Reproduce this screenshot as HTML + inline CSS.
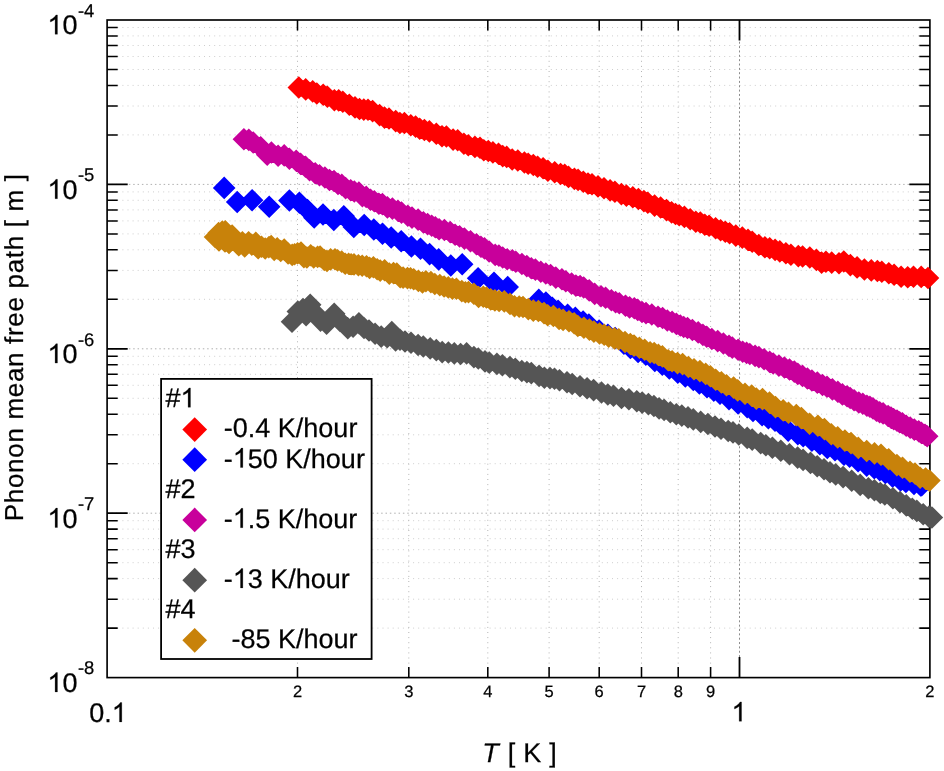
<!DOCTYPE html>
<html><head><meta charset="utf-8"><title>Phonon mean free path</title>
<style>html,body{margin:0;padding:0;background:#fff}svg{display:block}text{font-family:"Liberation Sans",sans-serif;font-kerning:none;text-rendering:geometricPrecision;white-space:pre}</style></head>
<body>
<svg width="944" height="771" viewBox="0 0 944 771">
<rect width="944" height="771" fill="#fff"/>
<g fill="none"><path d="M107.1 628.1H929.9" stroke="#cecece" stroke-width="1" stroke-dasharray="1 4.1"/><path d="M107.1 599.2H929.9" stroke="#cecece" stroke-width="1" stroke-dasharray="1 4.1"/><path d="M107.1 578.6H929.9" stroke="#cecece" stroke-width="1" stroke-dasharray="1 4.1"/><path d="M107.1 562.7H929.9" stroke="#cecece" stroke-width="1" stroke-dasharray="1 4.1"/><path d="M107.1 549.7H929.9" stroke="#cecece" stroke-width="1" stroke-dasharray="1 4.1"/><path d="M107.1 538.7H929.9" stroke="#cecece" stroke-width="1" stroke-dasharray="1 4.1"/><path d="M107.1 529.1H929.9" stroke="#cecece" stroke-width="1" stroke-dasharray="1 4.1"/><path d="M107.1 520.7H929.9" stroke="#cecece" stroke-width="1" stroke-dasharray="1 4.1"/><path d="M107.1 463.7H929.9" stroke="#cecece" stroke-width="1" stroke-dasharray="1 4.1"/><path d="M107.1 434.8H929.9" stroke="#cecece" stroke-width="1" stroke-dasharray="1 4.1"/><path d="M107.1 414.2H929.9" stroke="#cecece" stroke-width="1" stroke-dasharray="1 4.1"/><path d="M107.1 398.3H929.9" stroke="#cecece" stroke-width="1" stroke-dasharray="1 4.1"/><path d="M107.1 385.3H929.9" stroke="#cecece" stroke-width="1" stroke-dasharray="1 4.1"/><path d="M107.1 374.3H929.9" stroke="#cecece" stroke-width="1" stroke-dasharray="1 4.1"/><path d="M107.1 364.7H929.9" stroke="#cecece" stroke-width="1" stroke-dasharray="1 4.1"/><path d="M107.1 356.3H929.9" stroke="#cecece" stroke-width="1" stroke-dasharray="1 4.1"/><path d="M107.1 299.3H929.9" stroke="#cecece" stroke-width="1" stroke-dasharray="1 4.1"/><path d="M107.1 270.4H929.9" stroke="#cecece" stroke-width="1" stroke-dasharray="1 4.1"/><path d="M107.1 249.8H929.9" stroke="#cecece" stroke-width="1" stroke-dasharray="1 4.1"/><path d="M107.1 233.9H929.9" stroke="#cecece" stroke-width="1" stroke-dasharray="1 4.1"/><path d="M107.1 220.9H929.9" stroke="#cecece" stroke-width="1" stroke-dasharray="1 4.1"/><path d="M107.1 209.9H929.9" stroke="#cecece" stroke-width="1" stroke-dasharray="1 4.1"/><path d="M107.1 200.3H929.9" stroke="#cecece" stroke-width="1" stroke-dasharray="1 4.1"/><path d="M107.1 191.9H929.9" stroke="#cecece" stroke-width="1" stroke-dasharray="1 4.1"/><path d="M107.1 134.9H929.9" stroke="#cecece" stroke-width="1" stroke-dasharray="1 4.1"/><path d="M107.1 106H929.9" stroke="#cecece" stroke-width="1" stroke-dasharray="1 4.1"/><path d="M107.1 85.4H929.9" stroke="#cecece" stroke-width="1" stroke-dasharray="1 4.1"/><path d="M107.1 69.5H929.9" stroke="#cecece" stroke-width="1" stroke-dasharray="1 4.1"/><path d="M107.1 56.5H929.9" stroke="#cecece" stroke-width="1" stroke-dasharray="1 4.1"/><path d="M107.1 45.5H929.9" stroke="#cecece" stroke-width="1" stroke-dasharray="1 4.1"/><path d="M107.1 35.9H929.9" stroke="#cecece" stroke-width="1" stroke-dasharray="1 4.1"/><path d="M107.1 27.5H929.9" stroke="#cecece" stroke-width="1" stroke-dasharray="1 4.1"/><path d="M107.1 184.4H929.9" stroke="#b0b0b0" stroke-width="1" stroke-dasharray="1.5 2.85"/><path d="M107.1 348.8H929.9" stroke="#b0b0b0" stroke-width="1" stroke-dasharray="1.5 2.85"/><path d="M107.1 513.2H929.9" stroke="#b0b0b0" stroke-width="1" stroke-dasharray="1.5 2.85"/><path d="M297.5 20V677.6" stroke="#b4b4b4" stroke-width="1" stroke-dasharray="1 4.1"/><path d="M408.8 20V677.6" stroke="#b4b4b4" stroke-width="1" stroke-dasharray="1 4.1"/><path d="M487.8 20V677.6" stroke="#b4b4b4" stroke-width="1" stroke-dasharray="1 4.1"/><path d="M549.1 20V677.6" stroke="#b4b4b4" stroke-width="1" stroke-dasharray="1 4.1"/><path d="M599.2 20V677.6" stroke="#b4b4b4" stroke-width="1" stroke-dasharray="1 4.1"/><path d="M641.5 20V677.6" stroke="#b4b4b4" stroke-width="1" stroke-dasharray="1 4.1"/><path d="M678.2 20V677.6" stroke="#b4b4b4" stroke-width="1" stroke-dasharray="1 4.1"/><path d="M710.6 20V677.6" stroke="#b4b4b4" stroke-width="1" stroke-dasharray="1 4.1"/><path d="M739.5 20V677.6" stroke="#8c8c8c" stroke-width="1" stroke-dasharray="2 2.35"/></g>
<path d="M107.1 628.1h10.6M929.9 628.1h-10.6M107.1 599.2h10.6M929.9 599.2h-10.6M107.1 578.6h10.6M929.9 578.6h-10.6M107.1 562.7h10.6M929.9 562.7h-10.6M107.1 549.7h10.6M929.9 549.7h-10.6M107.1 538.7h10.6M929.9 538.7h-10.6M107.1 529.1h10.6M929.9 529.1h-10.6M107.1 520.7h10.6M929.9 520.7h-10.6M107.1 463.7h10.6M929.9 463.7h-10.6M107.1 434.8h10.6M929.9 434.8h-10.6M107.1 414.2h10.6M929.9 414.2h-10.6M107.1 398.3h10.6M929.9 398.3h-10.6M107.1 385.3h10.6M929.9 385.3h-10.6M107.1 374.3h10.6M929.9 374.3h-10.6M107.1 364.7h10.6M929.9 364.7h-10.6M107.1 356.3h10.6M929.9 356.3h-10.6M107.1 299.3h10.6M929.9 299.3h-10.6M107.1 270.4h10.6M929.9 270.4h-10.6M107.1 249.8h10.6M929.9 249.8h-10.6M107.1 233.9h10.6M929.9 233.9h-10.6M107.1 220.9h10.6M929.9 220.9h-10.6M107.1 209.9h10.6M929.9 209.9h-10.6M107.1 200.3h10.6M929.9 200.3h-10.6M107.1 191.9h10.6M929.9 191.9h-10.6M107.1 134.9h10.6M929.9 134.9h-10.6M107.1 106h10.6M929.9 106h-10.6M107.1 85.4h10.6M929.9 85.4h-10.6M107.1 69.5h10.6M929.9 69.5h-10.6M107.1 56.5h10.6M929.9 56.5h-10.6M107.1 45.5h10.6M929.9 45.5h-10.6M107.1 35.9h10.6M929.9 35.9h-10.6M107.1 27.5h10.6M929.9 27.5h-10.6M297.5 677.6v-10.6M297.5 20v10.6M408.8 677.6v-10.6M408.8 20v10.6M487.8 677.6v-10.6M487.8 20v10.6M549.1 677.6v-10.6M549.1 20v10.6M599.2 677.6v-10.6M599.2 20v10.6M641.5 677.6v-10.6M641.5 20v10.6M678.2 677.6v-10.6M678.2 20v10.6M710.6 677.6v-10.6M710.6 20v10.6" stroke="#000" stroke-width="1.55" fill="none"/>
<path d="M107.1 513.2h20.6M929.9 513.2h-20.6M107.1 348.8h20.6M929.9 348.8h-20.6M107.1 184.4h20.6M929.9 184.4h-20.6M739.5 677.6v-20.6M739.5 20v20.6" stroke="#000" stroke-width="1.8" fill="none"/>
<rect x="107.1" y="20" width="822.8" height="657.6" fill="none" stroke="#000" stroke-width="1.65"/>
<path fill="#ff0000" d="M298.8 76.2l11.3 11.3-11.3 11.3-11.3-11.3zM305.7 78.1l11.3 11.3-11.3 11.3-11.3-11.3zM312.7 80.1l11.3 11.3-11.3 11.3-11.3-11.3zM316.8 82.2l11.3 11.3-11.3 11.3-11.3-11.3zM323.2 83.5l11.3 11.3-11.3 11.3-11.3-11.3zM327.4 85.4l11.3 11.3-11.3 11.3-11.3-11.3zM334.4 88.9l11.3 11.3-11.3 11.3-11.3-11.3zM338.7 89.1l11.3 11.3-11.3 11.3-11.3-11.3zM342.8 90.4l11.3 11.3-11.3 11.3-11.3-11.3zM349.3 93.5l11.3 11.3-11.3 11.3-11.3-11.3zM355 96.1l11.3 11.3-11.3 11.3-11.3-11.3zM359.5 97.7l11.3 11.3-11.3 11.3-11.3-11.3zM363.8 98.3l11.3 11.3-11.3 11.3-11.3-11.3zM368 98.5l11.3 11.3-11.3 11.3-11.3-11.3zM372.6 99.8l11.3 11.3-11.3 11.3-11.3-11.3zM379.6 103.8l11.3 11.3-11.3 11.3-11.3-11.3zM384.5 106.3l11.3 11.3-11.3 11.3-11.3-11.3zM389 107.2l11.3 11.3-11.3 11.3-11.3-11.3zM395.7 109.8l11.3 11.3-11.3 11.3-11.3-11.3zM399.9 111.7l11.3 11.3-11.3 11.3-11.3-11.3zM404.4 111.7l11.3 11.3-11.3 11.3-11.3-11.3zM410.8 113.9l11.3 11.3-11.3 11.3-11.3-11.3zM415.6 115.3l11.3 11.3-11.3 11.3-11.3-11.3zM419.7 117.4l11.3 11.3-11.3 11.3-11.3-11.3zM424.4 118.7l11.3 11.3-11.3 11.3-11.3-11.3zM429.4 120.1l11.3 11.3-11.3 11.3-11.3-11.3zM436.3 122.5l11.3 11.3-11.3 11.3-11.3-11.3zM442 125l11.3 11.3-11.3 11.3-11.3-11.3zM446.4 125.2l11.3 11.3-11.3 11.3-11.3-11.3zM453.1 128.3l11.3 11.3-11.3 11.3-11.3-11.3zM457.7 128.9l11.3 11.3-11.3 11.3-11.3-11.3zM463.9 132.5l11.3 11.3-11.3 11.3-11.3-11.3zM468.3 134l11.3 11.3-11.3 11.3-11.3-11.3zM474.9 135.6l11.3 11.3-11.3 11.3-11.3-11.3zM480 136.5l11.3 11.3-11.3 11.3-11.3-11.3zM483.8 138.9l11.3 11.3-11.3 11.3-11.3-11.3zM488.3 139.7l11.3 11.3-11.3 11.3-11.3-11.3zM492.9 141.1l11.3 11.3-11.3 11.3-11.3-11.3zM498.5 142.4l11.3 11.3-11.3 11.3-11.3-11.3zM502.7 144.8l11.3 11.3-11.3 11.3-11.3-11.3zM506.7 145.6l11.3 11.3-11.3 11.3-11.3-11.3zM512.2 148.2l11.3 11.3-11.3 11.3-11.3-11.3zM517.8 149.2l11.3 11.3-11.3 11.3-11.3-11.3zM524.4 151.2l11.3 11.3-11.3 11.3-11.3-11.3zM528.2 152.4l11.3 11.3-11.3 11.3-11.3-11.3zM533.3 153.7l11.3 11.3-11.3 11.3-11.3-11.3zM537.6 155.4l11.3 11.3-11.3 11.3-11.3-11.3zM543.1 156.9l11.3 11.3-11.3 11.3-11.3-11.3zM547.9 159.4l11.3 11.3-11.3 11.3-11.3-11.3zM554.7 161l11.3 11.3-11.3 11.3-11.3-11.3zM560.6 162.7l11.3 11.3-11.3 11.3-11.3-11.3zM564.7 163.4l11.3 11.3-11.3 11.3-11.3-11.3zM568.5 165.6l11.3 11.3-11.3 11.3-11.3-11.3zM574.4 167.6l11.3 11.3-11.3 11.3-11.3-11.3zM578.1 168.6l11.3 11.3-11.3 11.3-11.3-11.3zM583.3 170.5l11.3 11.3-11.3 11.3-11.3-11.3zM588 172.3l11.3 11.3-11.3 11.3-11.3-11.3zM592 172.9l11.3 11.3-11.3 11.3-11.3-11.3zM598 175.1l11.3 11.3-11.3 11.3-11.3-11.3zM604 176.9l11.3 11.3-11.3 11.3-11.3-11.3zM610.1 179.1l11.3 11.3-11.3 11.3-11.3-11.3zM614.9 180.5l11.3 11.3-11.3 11.3-11.3-11.3zM621.4 182.8l11.3 11.3-11.3 11.3-11.3-11.3zM626.4 184.3l11.3 11.3-11.3 11.3-11.3-11.3zM632.8 186l11.3 11.3-11.3 11.3-11.3-11.3zM638.4 187.7l11.3 11.3-11.3 11.3-11.3-11.3zM643.9 189.8l11.3 11.3-11.3 11.3-11.3-11.3zM647.8 191.4l11.3 11.3-11.3 11.3-11.3-11.3zM654.6 194.3l11.3 11.3-11.3 11.3-11.3-11.3zM660.6 196.2l11.3 11.3-11.3 11.3-11.3-11.3zM666.5 198.8l11.3 11.3-11.3 11.3-11.3-11.3zM671.6 201.1l11.3 11.3-11.3 11.3-11.3-11.3zM675.5 202.7l11.3 11.3-11.3 11.3-11.3-11.3zM679.2 204l11.3 11.3-11.3 11.3-11.3-11.3zM684.4 205.6l11.3 11.3-11.3 11.3-11.3-11.3zM690.2 208l11.3 11.3-11.3 11.3-11.3-11.3zM695.8 210.4l11.3 11.3-11.3 11.3-11.3-11.3zM700.3 211.2l11.3 11.3-11.3 11.3-11.3-11.3zM704.8 213.4l11.3 11.3-11.3 11.3-11.3-11.3zM709.1 214.4l11.3 11.3-11.3 11.3-11.3-11.3zM715.6 217l11.3 11.3-11.3 11.3-11.3-11.3zM720.6 219l11.3 11.3-11.3 11.3-11.3-11.3zM725.3 220.5l11.3 11.3-11.3 11.3-11.3-11.3zM729.6 221.9l11.3 11.3-11.3 11.3-11.3-11.3zM735.8 224.3l11.3 11.3-11.3 11.3-11.3-11.3zM742.3 226.3l11.3 11.3-11.3 11.3-11.3-11.3zM748 228.6l11.3 11.3-11.3 11.3-11.3-11.3zM752.2 230.5l11.3 11.3-11.3 11.3-11.3-11.3zM758.8 233.7l11.3 11.3-11.3 11.3-11.3-11.3zM764.9 236l11.3 11.3-11.3 11.3-11.3-11.3zM769.7 236.9l11.3 11.3-11.3 11.3-11.3-11.3zM775.1 238.6l11.3 11.3-11.3 11.3-11.3-11.3zM779.8 240.1l11.3 11.3-11.3 11.3-11.3-11.3zM785.9 241.9l11.3 11.3-11.3 11.3-11.3-11.3zM790.9 243.5l11.3 11.3-11.3 11.3-11.3-11.3zM798.3 244.8l11.3 11.3-11.3 11.3-11.3-11.3zM802.6 245.2l11.3 11.3-11.3 11.3-11.3-11.3zM809.8 246.2l11.3 11.3-11.3 11.3-11.3-11.3zM816.4 248.6l11.3 11.3-11.3 11.3-11.3-11.3zM821.6 251.3l11.3 11.3-11.3 11.3-11.3-11.3zM825.9 250.4l11.3 11.3-11.3 11.3-11.3-11.3zM831.7 251.3l11.3 11.3-11.3 11.3-11.3-11.3zM839 252l11.3 11.3-11.3 11.3-11.3-11.3zM843.8 250.2l11.3 11.3-11.3 11.3-11.3-11.3zM850.4 253.8l11.3 11.3-11.3 11.3-11.3-11.3zM857.1 256.1l11.3 11.3-11.3 11.3-11.3-11.3zM864.4 258.2l11.3 11.3-11.3 11.3-11.3-11.3zM871.3 259.1l11.3 11.3-11.3 11.3-11.3-11.3zM877.4 259.7l11.3 11.3-11.3 11.3-11.3-11.3zM881.8 260.5l11.3 11.3-11.3 11.3-11.3-11.3zM888.8 261.9l11.3 11.3-11.3 11.3-11.3-11.3zM894.1 263.5l11.3 11.3-11.3 11.3-11.3-11.3zM901.1 265.4l11.3 11.3-11.3 11.3-11.3-11.3zM907.7 265.9l11.3 11.3-11.3 11.3-11.3-11.3zM913.5 265.4l11.3 11.3-11.3 11.3-11.3-11.3zM921.2 265.6l11.3 11.3-11.3 11.3-11.3-11.3zM928 266.7l11.3 11.3-11.3 11.3-11.3-11.3z"/>
<path fill="#0000ff" d="M224.2 176.6l11.3 11.3-11.3 11.3-11.3-11.3zM237.2 190.7l11.3 11.3-11.3 11.3-11.3-11.3zM252.1 188.9l11.3 11.3-11.3 11.3-11.3-11.3zM269.2 195.4l11.3 11.3-11.3 11.3-11.3-11.3zM289.4 189.2l11.3 11.3-11.3 11.3-11.3-11.3zM299.4 191.5l11.3 11.3-11.3 11.3-11.3-11.3zM307.5 198.7l11.3 11.3-11.3 11.3-11.3-11.3zM314.2 206.2l11.3 11.3-11.3 11.3-11.3-11.3zM323 203.2l11.3 11.3-11.3 11.3-11.3-11.3zM333.8 208.7l11.3 11.3-11.3 11.3-11.3-11.3zM343.8 204.9l11.3 11.3-11.3 11.3-11.3-11.3zM353.8 215.7l11.3 11.3-11.3 11.3-11.3-11.3zM364.2 213.7l11.3 11.3-11.3 11.3-11.3-11.3zM373.8 218.2l11.3 11.3-11.3 11.3-11.3-11.3zM382.5 222.4l11.3 11.3-11.3 11.3-11.3-11.3zM391.2 226.2l11.3 11.3-11.3 11.3-11.3-11.3zM401.2 229.9l11.3 11.3-11.3 11.3-11.3-11.3zM411.4 235.2l11.3 11.3-11.3 11.3-11.3-11.3zM420.5 237.5l11.3 11.3-11.3 11.3-11.3-11.3zM429.6 242.8l11.3 11.3-11.3 11.3-11.3-11.3zM438.7 248.1l11.3 11.3-11.3 11.3-11.3-11.3zM450.8 254.2l11.3 11.3-11.3 11.3-11.3-11.3zM462.2 253l11.3 11.3-11.3 11.3-11.3-11.3zM478.1 266.9l11.3 11.3-11.3 11.3-11.3-11.3zM494 271.5l11.3 11.3-11.3 11.3-11.3-11.3zM507.7 275.7l11.3 11.3-11.3 11.3-11.3-11.3zM538.8 288.6l11.3 11.3-11.3 11.3-11.3-11.3zM545.9 291.3l11.3 11.3-11.3 11.3-11.3-11.3zM552.3 296.5l11.3 11.3-11.3 11.3-11.3-11.3zM558.1 299.5l11.3 11.3-11.3 11.3-11.3-11.3zM567.6 303.6l11.3 11.3-11.3 11.3-11.3-11.3zM575.3 306.6l11.3 11.3-11.3 11.3-11.3-11.3zM583.1 310.3l11.3 11.3-11.3 11.3-11.3-11.3zM588.9 313.2l11.3 11.3-11.3 11.3-11.3-11.3zM599.1 319.2l11.3 11.3-11.3 11.3-11.3-11.3zM607.9 323.4l11.3 11.3-11.3 11.3-11.3-11.3zM615.2 326.8l11.3 11.3-11.3 11.3-11.3-11.3zM623.9 332.5l11.3 11.3-11.3 11.3-11.3-11.3zM630.4 336.7l11.3 11.3-11.3 11.3-11.3-11.3zM638.1 340.6l11.3 11.3-11.3 11.3-11.3-11.3zM645.8 343.3l11.3 11.3-11.3 11.3-11.3-11.3zM654.8 349.6l11.3 11.3-11.3 11.3-11.3-11.3zM662.3 353.3l11.3 11.3-11.3 11.3-11.3-11.3zM669.3 357.1l11.3 11.3-11.3 11.3-11.3-11.3zM677.8 361.4l11.3 11.3-11.3 11.3-11.3-11.3zM685.3 365.2l11.3 11.3-11.3 11.3-11.3-11.3zM693.3 368.6l11.3 11.3-11.3 11.3-11.3-11.3zM699.4 372.1l11.3 11.3-11.3 11.3-11.3-11.3zM707 375.9l11.3 11.3-11.3 11.3-11.3-11.3zM713.8 379.3l11.3 11.3-11.3 11.3-11.3-11.3zM720 382.4l11.3 11.3-11.3 11.3-11.3-11.3zM729 387.8l11.3 11.3-11.3 11.3-11.3-11.3zM738.1 392.1l11.3 11.3-11.3 11.3-11.3-11.3zM747.2 395.8l11.3 11.3-11.3 11.3-11.3-11.3zM753 399.7l11.3 11.3-11.3 11.3-11.3-11.3zM762.1 404l11.3 11.3-11.3 11.3-11.3-11.3zM768.4 407l11.3 11.3-11.3 11.3-11.3-11.3zM775 409.5l11.3 11.3-11.3 11.3-11.3-11.3zM780.2 412.4l11.3 11.3-11.3 11.3-11.3-11.3zM788.2 419.3l11.3 11.3-11.3 11.3-11.3-11.3zM797.8 422.8l11.3 11.3-11.3 11.3-11.3-11.3zM803.2 425l11.3 11.3-11.3 11.3-11.3-11.3zM811.9 429.5l11.3 11.3-11.3 11.3-11.3-11.3zM819.9 433l11.3 11.3-11.3 11.3-11.3-11.3zM827.3 436.6l11.3 11.3-11.3 11.3-11.3-11.3zM835 439l11.3 11.3-11.3 11.3-11.3-11.3zM844 443.5l11.3 11.3-11.3 11.3-11.3-11.3zM849.6 445.5l11.3 11.3-11.3 11.3-11.3-11.3zM858.1 450l11.3 11.3-11.3 11.3-11.3-11.3zM866.7 454.3l11.3 11.3-11.3 11.3-11.3-11.3zM874.3 457l11.3 11.3-11.3 11.3-11.3-11.3zM879.8 458.8l11.3 11.3-11.3 11.3-11.3-11.3zM885.4 461.7l11.3 11.3-11.3 11.3-11.3-11.3zM892.6 465.3l11.3 11.3-11.3 11.3-11.3-11.3zM900.6 469.2l11.3 11.3-11.3 11.3-11.3-11.3zM905.9 470.6l11.3 11.3-11.3 11.3-11.3-11.3zM914 472.6l11.3 11.3-11.3 11.3-11.3-11.3zM920.7 474.1l11.3 11.3-11.3 11.3-11.3-11.3zM921.8 473.9l11.3 11.3-11.3 11.3-11.3-11.3z"/>
<path fill="#c8009b" d="M243.9 128l11.3 11.3-11.3 11.3-11.3-11.3zM248.8 128.6l11.3 11.3-11.3 11.3-11.3-11.3zM253.2 131.2l11.3 11.3-11.3 11.3-11.3-11.3zM260.7 135.9l11.3 11.3-11.3 11.3-11.3-11.3zM267.2 143.4l11.3 11.3-11.3 11.3-11.3-11.3zM271.4 141.2l11.3 11.3-11.3 11.3-11.3-11.3zM278.1 144.4l11.3 11.3-11.3 11.3-11.3-11.3zM284.2 144.1l11.3 11.3-11.3 11.3-11.3-11.3zM289.4 147.5l11.3 11.3-11.3 11.3-11.3-11.3zM296.2 149.5l11.3 11.3-11.3 11.3-11.3-11.3zM300.6 152.6l11.3 11.3-11.3 11.3-11.3-11.3zM305.5 155.5l11.3 11.3-11.3 11.3-11.3-11.3zM309.6 159l11.3 11.3-11.3 11.3-11.3-11.3zM315.2 161.9l11.3 11.3-11.3 11.3-11.3-11.3zM319.5 163.9l11.3 11.3-11.3 11.3-11.3-11.3zM324.9 166.2l11.3 11.3-11.3 11.3-11.3-11.3zM329.5 168.7l11.3 11.3-11.3 11.3-11.3-11.3zM334 169.7l11.3 11.3-11.3 11.3-11.3-11.3zM338 172.6l11.3 11.3-11.3 11.3-11.3-11.3zM341.8 173.6l11.3 11.3-11.3 11.3-11.3-11.3zM345.6 176.8l11.3 11.3-11.3 11.3-11.3-11.3zM350.7 179l11.3 11.3-11.3 11.3-11.3-11.3zM354.3 180.2l11.3 11.3-11.3 11.3-11.3-11.3zM358.9 181.2l11.3 11.3-11.3 11.3-11.3-11.3zM362.4 185l11.3 11.3-11.3 11.3-11.3-11.3zM366.2 185.6l11.3 11.3-11.3 11.3-11.3-11.3zM370.5 188.5l11.3 11.3-11.3 11.3-11.3-11.3zM374.3 190l11.3 11.3-11.3 11.3-11.3-11.3zM378.9 192.5l11.3 11.3-11.3 11.3-11.3-11.3zM382.4 192.8l11.3 11.3-11.3 11.3-11.3-11.3zM387.4 196.1l11.3 11.3-11.3 11.3-11.3-11.3zM392.4 197.3l11.3 11.3-11.3 11.3-11.3-11.3zM397.9 199.4l11.3 11.3-11.3 11.3-11.3-11.3zM401.5 201.3l11.3 11.3-11.3 11.3-11.3-11.3zM407.8 204.5l11.3 11.3-11.3 11.3-11.3-11.3zM412 206.3l11.3 11.3-11.3 11.3-11.3-11.3zM418.1 208.3l11.3 11.3-11.3 11.3-11.3-11.3zM423.4 211.1l11.3 11.3-11.3 11.3-11.3-11.3zM427.6 212.8l11.3 11.3-11.3 11.3-11.3-11.3zM431.7 214.5l11.3 11.3-11.3 11.3-11.3-11.3zM435.3 215.9l11.3 11.3-11.3 11.3-11.3-11.3zM439.1 218l11.3 11.3-11.3 11.3-11.3-11.3zM444.4 218.7l11.3 11.3-11.3 11.3-11.3-11.3zM450.2 220.8l11.3 11.3-11.3 11.3-11.3-11.3zM455.1 223.5l11.3 11.3-11.3 11.3-11.3-11.3zM459.6 225.1l11.3 11.3-11.3 11.3-11.3-11.3zM464.4 227.3l11.3 11.3-11.3 11.3-11.3-11.3zM470.5 230l11.3 11.3-11.3 11.3-11.3-11.3zM476.5 232.9l11.3 11.3-11.3 11.3-11.3-11.3zM480.9 235.4l11.3 11.3-11.3 11.3-11.3-11.3zM484.5 237.1l11.3 11.3-11.3 11.3-11.3-11.3zM489.1 240.2l11.3 11.3-11.3 11.3-11.3-11.3zM495.2 243.6l11.3 11.3-11.3 11.3-11.3-11.3zM498.9 244.3l11.3 11.3-11.3 11.3-11.3-11.3zM502.7 246.2l11.3 11.3-11.3 11.3-11.3-11.3zM507.2 248l11.3 11.3-11.3 11.3-11.3-11.3zM512.3 249l11.3 11.3-11.3 11.3-11.3-11.3zM515.8 250.5l11.3 11.3-11.3 11.3-11.3-11.3zM521.9 252.7l11.3 11.3-11.3 11.3-11.3-11.3zM526.8 254.8l11.3 11.3-11.3 11.3-11.3-11.3zM531.3 257l11.3 11.3-11.3 11.3-11.3-11.3zM535.4 258.3l11.3 11.3-11.3 11.3-11.3-11.3zM540.8 260.4l11.3 11.3-11.3 11.3-11.3-11.3zM545.8 262.2l11.3 11.3-11.3 11.3-11.3-11.3zM550.6 263.7l11.3 11.3-11.3 11.3-11.3-11.3zM555.8 266.3l11.3 11.3-11.3 11.3-11.3-11.3zM561.9 267.9l11.3 11.3-11.3 11.3-11.3-11.3zM565.8 270l11.3 11.3-11.3 11.3-11.3-11.3zM571.6 272.3l11.3 11.3-11.3 11.3-11.3-11.3zM575.9 274.3l11.3 11.3-11.3 11.3-11.3-11.3zM580.1 274.8l11.3 11.3-11.3 11.3-11.3-11.3zM583.7 276.2l11.3 11.3-11.3 11.3-11.3-11.3zM589.2 279.1l11.3 11.3-11.3 11.3-11.3-11.3zM594.7 282.6l11.3 11.3-11.3 11.3-11.3-11.3zM601 285l11.3 11.3-11.3 11.3-11.3-11.3zM605.6 286.5l11.3 11.3-11.3 11.3-11.3-11.3zM611.4 289l11.3 11.3-11.3 11.3-11.3-11.3zM615.6 290.8l11.3 11.3-11.3 11.3-11.3-11.3zM619.3 291.9l11.3 11.3-11.3 11.3-11.3-11.3zM625.5 294.4l11.3 11.3-11.3 11.3-11.3-11.3zM629.6 296.1l11.3 11.3-11.3 11.3-11.3-11.3zM634.3 297l11.3 11.3-11.3 11.3-11.3-11.3zM637.7 298.6l11.3 11.3-11.3 11.3-11.3-11.3zM642 300.7l11.3 11.3-11.3 11.3-11.3-11.3zM646 301.8l11.3 11.3-11.3 11.3-11.3-11.3zM651.8 303.2l11.3 11.3-11.3 11.3-11.3-11.3zM658 305.4l11.3 11.3-11.3 11.3-11.3-11.3zM662.6 306.7l11.3 11.3-11.3 11.3-11.3-11.3zM667.3 309.2l11.3 11.3-11.3 11.3-11.3-11.3zM672.1 310.6l11.3 11.3-11.3 11.3-11.3-11.3zM676.4 312.6l11.3 11.3-11.3 11.3-11.3-11.3zM680.3 314.2l11.3 11.3-11.3 11.3-11.3-11.3zM683.7 315.7l11.3 11.3-11.3 11.3-11.3-11.3zM687.5 316.7l11.3 11.3-11.3 11.3-11.3-11.3zM692.4 318.7l11.3 11.3-11.3 11.3-11.3-11.3zM698.2 321.1l11.3 11.3-11.3 11.3-11.3-11.3zM702.9 323.6l11.3 11.3-11.3 11.3-11.3-11.3zM706.7 325.5l11.3 11.3-11.3 11.3-11.3-11.3zM711.8 327.7l11.3 11.3-11.3 11.3-11.3-11.3zM717.7 329.8l11.3 11.3-11.3 11.3-11.3-11.3zM723.4 332.2l11.3 11.3-11.3 11.3-11.3-11.3zM729 334.6l11.3 11.3-11.3 11.3-11.3-11.3zM732.3 336.3l11.3 11.3-11.3 11.3-11.3-11.3zM738.1 338.4l11.3 11.3-11.3 11.3-11.3-11.3zM742.7 340.4l11.3 11.3-11.3 11.3-11.3-11.3zM746.6 341.6l11.3 11.3-11.3 11.3-11.3-11.3zM749.8 342.7l11.3 11.3-11.3 11.3-11.3-11.3zM755.1 344.6l11.3 11.3-11.3 11.3-11.3-11.3zM758.9 345.8l11.3 11.3-11.3 11.3-11.3-11.3zM764.1 348l11.3 11.3-11.3 11.3-11.3-11.3zM769.7 350.6l11.3 11.3-11.3 11.3-11.3-11.3zM773.2 352.2l11.3 11.3-11.3 11.3-11.3-11.3zM778.9 354.3l11.3 11.3-11.3 11.3-11.3-11.3zM784.4 356.2l11.3 11.3-11.3 11.3-11.3-11.3zM789.5 358.2l11.3 11.3-11.3 11.3-11.3-11.3zM794.3 360.3l11.3 11.3-11.3 11.3-11.3-11.3zM797.8 362.6l11.3 11.3-11.3 11.3-11.3-11.3zM802.5 364.6l11.3 11.3-11.3 11.3-11.3-11.3zM807.4 367.2l11.3 11.3-11.3 11.3-11.3-11.3zM811.9 369.2l11.3 11.3-11.3 11.3-11.3-11.3zM817.3 371.3l11.3 11.3-11.3 11.3-11.3-11.3zM822.5 373.7l11.3 11.3-11.3 11.3-11.3-11.3zM827 375.5l11.3 11.3-11.3 11.3-11.3-11.3zM832.4 378.1l11.3 11.3-11.3 11.3-11.3-11.3zM837.8 380.5l11.3 11.3-11.3 11.3-11.3-11.3zM842.4 383.1l11.3 11.3-11.3 11.3-11.3-11.3zM847.1 385l11.3 11.3-11.3 11.3-11.3-11.3zM850.2 386.7l11.3 11.3-11.3 11.3-11.3-11.3zM854.1 388.9l11.3 11.3-11.3 11.3-11.3-11.3zM858.8 391.2l11.3 11.3-11.3 11.3-11.3-11.3zM862.8 392.4l11.3 11.3-11.3 11.3-11.3-11.3zM866.9 394.5l11.3 11.3-11.3 11.3-11.3-11.3zM869.9 395.5l11.3 11.3-11.3 11.3-11.3-11.3zM873 397.1l11.3 11.3-11.3 11.3-11.3-11.3zM876.5 399.4l11.3 11.3-11.3 11.3-11.3-11.3zM879.7 401l11.3 11.3-11.3 11.3-11.3-11.3zM883.1 402.1l11.3 11.3-11.3 11.3-11.3-11.3zM888.1 404.7l11.3 11.3-11.3 11.3-11.3-11.3zM891 406.3l11.3 11.3-11.3 11.3-11.3-11.3zM893.8 408l11.3 11.3-11.3 11.3-11.3-11.3zM897 409.3l11.3 11.3-11.3 11.3-11.3-11.3zM899.6 411l11.3 11.3-11.3 11.3-11.3-11.3zM902.4 412l11.3 11.3-11.3 11.3-11.3-11.3zM906.2 414.4l11.3 11.3-11.3 11.3-11.3-11.3zM910.2 416.3l11.3 11.3-11.3 11.3-11.3-11.3zM914.3 418.3l11.3 11.3-11.3 11.3-11.3-11.3zM918.7 419.9l11.3 11.3-11.3 11.3-11.3-11.3zM921.4 421.6l11.3 11.3-11.3 11.3-11.3-11.3zM925 423.5l11.3 11.3-11.3 11.3-11.3-11.3zM927.2 425l11.3 11.3-11.3 11.3-11.3-11.3z"/>
<path fill="#555555" d="M292 310.4l11.3 11.3-11.3 11.3-11.3-11.3zM297.8 300.2l11.3 11.3-11.3 11.3-11.3-11.3zM303 297.7l11.3 11.3-11.3 11.3-11.3-11.3zM310.2 293.4l11.3 11.3-11.3 11.3-11.3-11.3zM306.1 304l11.3 11.3-11.3 11.3-11.3-11.3zM314 300.7l11.3 11.3-11.3 11.3-11.3-11.3zM320.5 309.3l11.3 11.3-11.3 11.3-11.3-11.3zM326.6 312.4l11.3 11.3-11.3 11.3-11.3-11.3zM334.2 302.5l11.3 11.3-11.3 11.3-11.3-11.3zM330 307.7l11.3 11.3-11.3 11.3-11.3-11.3zM340 309.7l11.3 11.3-11.3 11.3-11.3-11.3zM347.8 316.9l11.3 11.3-11.3 11.3-11.3-11.3zM353.1 315.4l11.3 11.3-11.3 11.3-11.3-11.3zM358.9 311.9l11.3 11.3-11.3 11.3-11.3-11.3zM364 316.7l11.3 11.3-11.3 11.3-11.3-11.3zM369 319.2l11.3 11.3-11.3 11.3-11.3-11.3zM375.1 322.5l11.3 11.3-11.3 11.3-11.3-11.3zM381.2 325.3l11.3 11.3-11.3 11.3-11.3-11.3zM387.2 326l11.3 11.3-11.3 11.3-11.3-11.3zM391.8 320.7l11.3 11.3-11.3 11.3-11.3-11.3zM395.6 329.1l11.3 11.3-11.3 11.3-11.3-11.3zM400 328.5l11.3 11.3-11.3 11.3-11.3-11.3zM405 330.2l11.3 11.3-11.3 11.3-11.3-11.3zM411 331.5l11.3 11.3-11.3 11.3-11.3-11.3zM418.1 333.7l11.3 11.3-11.3 11.3-11.3-11.3zM423.3 335.2l11.3 11.3-11.3 11.3-11.3-11.3zM430.2 337.1l11.3 11.3-11.3 11.3-11.3-11.3zM436.3 338.8l11.3 11.3-11.3 11.3-11.3-11.3zM442.2 340.8l11.3 11.3-11.3 11.3-11.3-11.3zM448.4 341.2l11.3 11.3-11.3 11.3-11.3-11.3zM454.3 342.1l11.3 11.3-11.3 11.3-11.3-11.3zM460.6 342.7l11.3 11.3-11.3 11.3-11.3-11.3zM466.6 342.1l11.3 11.3-11.3 11.3-11.3-11.3zM473.9 345.8l11.3 11.3-11.3 11.3-11.3-11.3zM478.3 347.2l11.3 11.3-11.3 11.3-11.3-11.3zM485 350.1l11.3 11.3-11.3 11.3-11.3-11.3zM489.3 351.3l11.3 11.3-11.3 11.3-11.3-11.3zM496.9 352.6l11.3 11.3-11.3 11.3-11.3-11.3zM502.4 353.9l11.3 11.3-11.3 11.3-11.3-11.3zM509.9 355.8l11.3 11.3-11.3 11.3-11.3-11.3zM515.3 357.5l11.3 11.3-11.3 11.3-11.3-11.3zM521.8 359.7l11.3 11.3-11.3 11.3-11.3-11.3zM526.9 360.8l11.3 11.3-11.3 11.3-11.3-11.3zM531.3 361.8l11.3 11.3-11.3 11.3-11.3-11.3zM539.1 364.6l11.3 11.3-11.3 11.3-11.3-11.3zM544.4 366.5l11.3 11.3-11.3 11.3-11.3-11.3zM550 366.8l11.3 11.3-11.3 11.3-11.3-11.3zM554.5 367.5l11.3 11.3-11.3 11.3-11.3-11.3zM559.5 368.9l11.3 11.3-11.3 11.3-11.3-11.3zM567 370.9l11.3 11.3-11.3 11.3-11.3-11.3zM572.2 372.7l11.3 11.3-11.3 11.3-11.3-11.3zM580 374.9l11.3 11.3-11.3 11.3-11.3-11.3zM587.1 377l11.3 11.3-11.3 11.3-11.3-11.3zM593.6 378.8l11.3 11.3-11.3 11.3-11.3-11.3zM601.5 381.2l11.3 11.3-11.3 11.3-11.3-11.3zM607.8 383.2l11.3 11.3-11.3 11.3-11.3-11.3zM613.5 384.5l11.3 11.3-11.3 11.3-11.3-11.3zM621.5 386.7l11.3 11.3-11.3 11.3-11.3-11.3zM628.9 388l11.3 11.3-11.3 11.3-11.3-11.3zM636.8 389.9l11.3 11.3-11.3 11.3-11.3-11.3zM642.2 391.3l11.3 11.3-11.3 11.3-11.3-11.3zM648.4 392.8l11.3 11.3-11.3 11.3-11.3-11.3zM653.9 394.7l11.3 11.3-11.3 11.3-11.3-11.3zM659.1 397.1l11.3 11.3-11.3 11.3-11.3-11.3zM664.1 398.6l11.3 11.3-11.3 11.3-11.3-11.3zM670.3 401l11.3 11.3-11.3 11.3-11.3-11.3zM676.3 403l11.3 11.3-11.3 11.3-11.3-11.3zM681.8 404.3l11.3 11.3-11.3 11.3-11.3-11.3zM688 406.1l11.3 11.3-11.3 11.3-11.3-11.3zM693.3 408.1l11.3 11.3-11.3 11.3-11.3-11.3zM700.7 410.6l11.3 11.3-11.3 11.3-11.3-11.3zM707.9 412.7l11.3 11.3-11.3 11.3-11.3-11.3zM715 415.2l11.3 11.3-11.3 11.3-11.3-11.3zM721 417.5l11.3 11.3-11.3 11.3-11.3-11.3zM728.2 419.7l11.3 11.3-11.3 11.3-11.3-11.3zM733 421.1l11.3 11.3-11.3 11.3-11.3-11.3zM738.8 423.2l11.3 11.3-11.3 11.3-11.3-11.3zM747.2 426.6l11.3 11.3-11.3 11.3-11.3-11.3zM752.2 428.3l11.3 11.3-11.3 11.3-11.3-11.3zM760.7 431.8l11.3 11.3-11.3 11.3-11.3-11.3zM765.9 434l11.3 11.3-11.3 11.3-11.3-11.3zM772.4 436.4l11.3 11.3-11.3 11.3-11.3-11.3zM780.8 439.5l11.3 11.3-11.3 11.3-11.3-11.3zM789.5 442.9l11.3 11.3-11.3 11.3-11.3-11.3zM797.6 446.3l11.3 11.3-11.3 11.3-11.3-11.3zM803.1 448.6l11.3 11.3-11.3 11.3-11.3-11.3zM810.5 451.6l11.3 11.3-11.3 11.3-11.3-11.3zM817.2 455l11.3 11.3-11.3 11.3-11.3-11.3zM824 458l11.3 11.3-11.3 11.3-11.3-11.3zM830 460.9l11.3 11.3-11.3 11.3-11.3-11.3zM835.7 463.1l11.3 11.3-11.3 11.3-11.3-11.3zM843.1 465.8l11.3 11.3-11.3 11.3-11.3-11.3zM851.7 469.4l11.3 11.3-11.3 11.3-11.3-11.3zM860.2 473.6l11.3 11.3-11.3 11.3-11.3-11.3zM868.4 476.9l11.3 11.3-11.3 11.3-11.3-11.3zM874.4 478.9l11.3 11.3-11.3 11.3-11.3-11.3zM880.3 481.7l11.3 11.3-11.3 11.3-11.3-11.3zM884.8 483.2l11.3 11.3-11.3 11.3-11.3-11.3zM892.9 486.9l11.3 11.3-11.3 11.3-11.3-11.3zM900 490.8l11.3 11.3-11.3 11.3-11.3-11.3zM906.3 494.1l11.3 11.3-11.3 11.3-11.3-11.3zM912.3 497.4l11.3 11.3-11.3 11.3-11.3-11.3zM916.8 499.6l11.3 11.3-11.3 11.3-11.3-11.3zM923.2 502.9l11.3 11.3-11.3 11.3-11.3-11.3zM929 505.3l11.3 11.3-11.3 11.3-11.3-11.3zM931.9 506.2l11.3 11.3-11.3 11.3-11.3-11.3z"/>
<path fill="#c8820a" d="M219 229.2l11.3 11.3-11.3 11.3-11.3-11.3zM225 230.2l11.3 11.3-11.3 11.3-11.3-11.3zM222 221.7l11.3 11.3-11.3 11.3-11.3-11.3zM229 231.7l11.3 11.3-11.3 11.3-11.3-11.3zM215 225.7l11.3 11.3-11.3 11.3-11.3-11.3zM218.6 221.7l11.3 11.3-11.3 11.3-11.3-11.3zM222.3 220.2l11.3 11.3-11.3 11.3-11.3-11.3zM225.3 219.9l11.3 11.3-11.3 11.3-11.3-11.3zM229 227l11.3 11.3-11.3 11.3-11.3-11.3zM232.1 224.2l11.3 11.3-11.3 11.3-11.3-11.3zM235.1 228l11.3 11.3-11.3 11.3-11.3-11.3zM238.8 234l11.3 11.3-11.3 11.3-11.3-11.3zM242.4 230.9l11.3 11.3-11.3 11.3-11.3-11.3zM244.7 235.2l11.3 11.3-11.3 11.3-11.3-11.3zM248.6 230.9l11.3 11.3-11.3 11.3-11.3-11.3zM251.8 233.4l11.3 11.3-11.3 11.3-11.3-11.3zM255.8 231.4l11.3 11.3-11.3 11.3-11.3-11.3zM258.2 237l11.3 11.3-11.3 11.3-11.3-11.3zM261.5 235.5l11.3 11.3-11.3 11.3-11.3-11.3zM265.2 237.2l11.3 11.3-11.3 11.3-11.3-11.3zM268.8 235.9l11.3 11.3-11.3 11.3-11.3-11.3zM271.2 234.7l11.3 11.3-11.3 11.3-11.3-11.3zM274.2 238.6l11.3 11.3-11.3 11.3-11.3-11.3zM277.2 237.1l11.3 11.3-11.3 11.3-11.3-11.3zM280.7 239.7l11.3 11.3-11.3 11.3-11.3-11.3zM284.2 238.3l11.3 11.3-11.3 11.3-11.3-11.3zM288.1 242.1l11.3 11.3-11.3 11.3-11.3-11.3zM292.2 243.6l11.3 11.3-11.3 11.3-11.3-11.3zM294.6 242.9l11.3 11.3-11.3 11.3-11.3-11.3zM297.6 241.9l11.3 11.3-11.3 11.3-11.3-11.3zM301 241.2l11.3 11.3-11.3 11.3-11.3-11.3zM303.9 246l11.3 11.3-11.3 11.3-11.3-11.3zM306.9 246.2l11.3 11.3-11.3 11.3-11.3-11.3zM310.7 244l11.3 11.3-11.3 11.3-11.3-11.3zM313.7 246.1l11.3 11.3-11.3 11.3-11.3-11.3zM317.6 245.6l11.3 11.3-11.3 11.3-11.3-11.3zM320.1 245.2l11.3 11.3-11.3 11.3-11.3-11.3zM324.3 248.7l11.3 11.3-11.3 11.3-11.3-11.3zM327 249.7l11.3 11.3-11.3 11.3-11.3-11.3zM330.6 248.1l11.3 11.3-11.3 11.3-11.3-11.3zM335 247.9l11.3 11.3-11.3 11.3-11.3-11.3zM337.6 249.1l11.3 11.3-11.3 11.3-11.3-11.3zM341.7 250.3l11.3 11.3-11.3 11.3-11.3-11.3zM345.2 252.4l11.3 11.3-11.3 11.3-11.3-11.3zM348.6 252.5l11.3 11.3-11.3 11.3-11.3-11.3zM351.1 253l11.3 11.3-11.3 11.3-11.3-11.3zM354 253.1l11.3 11.3-11.3 11.3-11.3-11.3zM358.4 254l11.3 11.3-11.3 11.3-11.3-11.3zM362.2 254.5l11.3 11.3-11.3 11.3-11.3-11.3zM366.5 255l11.3 11.3-11.3 11.3-11.3-11.3zM369.6 256.6l11.3 11.3-11.3 11.3-11.3-11.3zM373.4 255.9l11.3 11.3-11.3 11.3-11.3-11.3zM377.2 257.9l11.3 11.3-11.3 11.3-11.3-11.3zM380.2 259.3l11.3 11.3-11.3 11.3-11.3-11.3zM384.6 259l11.3 11.3-11.3 11.3-11.3-11.3zM389.3 262.3l11.3 11.3-11.3 11.3-11.3-11.3zM393.5 261.8l11.3 11.3-11.3 11.3-11.3-11.3zM396.8 262.2l11.3 11.3-11.3 11.3-11.3-11.3zM400.2 266l11.3 11.3-11.3 11.3-11.3-11.3zM403.1 266.3l11.3 11.3-11.3 11.3-11.3-11.3zM407.5 266.8l11.3 11.3-11.3 11.3-11.3-11.3zM410.5 267l11.3 11.3-11.3 11.3-11.3-11.3zM413.7 268l11.3 11.3-11.3 11.3-11.3-11.3zM418.4 269.6l11.3 11.3-11.3 11.3-11.3-11.3zM422.5 271.1l11.3 11.3-11.3 11.3-11.3-11.3zM425.9 270l11.3 11.3-11.3 11.3-11.3-11.3zM430.9 270.8l11.3 11.3-11.3 11.3-11.3-11.3zM434.8 272.7l11.3 11.3-11.3 11.3-11.3-11.3zM439.8 273.8l11.3 11.3-11.3 11.3-11.3-11.3zM444.1 275.2l11.3 11.3-11.3 11.3-11.3-11.3zM448.3 276.1l11.3 11.3-11.3 11.3-11.3-11.3zM452.4 277.3l11.3 11.3-11.3 11.3-11.3-11.3zM456.4 277.5l11.3 11.3-11.3 11.3-11.3-11.3zM461.8 279.8l11.3 11.3-11.3 11.3-11.3-11.3zM465.4 281l11.3 11.3-11.3 11.3-11.3-11.3zM468.5 280.8l11.3 11.3-11.3 11.3-11.3-11.3zM473.8 282.5l11.3 11.3-11.3 11.3-11.3-11.3zM478.6 285.7l11.3 11.3-11.3 11.3-11.3-11.3zM483.3 285.5l11.3 11.3-11.3 11.3-11.3-11.3zM486.4 286.2l11.3 11.3-11.3 11.3-11.3-11.3zM490.7 288.1l11.3 11.3-11.3 11.3-11.3-11.3zM494.9 289.1l11.3 11.3-11.3 11.3-11.3-11.3zM499.1 289.7l11.3 11.3-11.3 11.3-11.3-11.3zM504.3 290.1l11.3 11.3-11.3 11.3-11.3-11.3zM510 292.6l11.3 11.3-11.3 11.3-11.3-11.3zM514.5 295l11.3 11.3-11.3 11.3-11.3-11.3zM519.2 295.3l11.3 11.3-11.3 11.3-11.3-11.3zM523 295.7l11.3 11.3-11.3 11.3-11.3-11.3zM528.3 297.8l11.3 11.3-11.3 11.3-11.3-11.3zM533.3 299.3l11.3 11.3-11.3 11.3-11.3-11.3zM538.4 299.7l11.3 11.3-11.3 11.3-11.3-11.3zM544 301.8l11.3 11.3-11.3 11.3-11.3-11.3zM547.7 304l11.3 11.3-11.3 11.3-11.3-11.3zM553.4 304.7l11.3 11.3-11.3 11.3-11.3-11.3zM559.1 307.6l11.3 11.3-11.3 11.3-11.3-11.3zM563.1 308.6l11.3 11.3-11.3 11.3-11.3-11.3zM569 309.9l11.3 11.3-11.3 11.3-11.3-11.3zM574.1 312l11.3 11.3-11.3 11.3-11.3-11.3zM577.8 314.7l11.3 11.3-11.3 11.3-11.3-11.3zM583.9 316.5l11.3 11.3-11.3 11.3-11.3-11.3zM589.4 318.3l11.3 11.3-11.3 11.3-11.3-11.3zM593.9 320.3l11.3 11.3-11.3 11.3-11.3-11.3zM599.5 322.2l11.3 11.3-11.3 11.3-11.3-11.3zM604.2 323.5l11.3 11.3-11.3 11.3-11.3-11.3zM608.7 325.3l11.3 11.3-11.3 11.3-11.3-11.3zM614.5 327.1l11.3 11.3-11.3 11.3-11.3-11.3zM618.8 328l11.3 11.3-11.3 11.3-11.3-11.3zM625 330.7l11.3 11.3-11.3 11.3-11.3-11.3zM630.3 332.7l11.3 11.3-11.3 11.3-11.3-11.3zM634 334.3l11.3 11.3-11.3 11.3-11.3-11.3zM639.4 336.5l11.3 11.3-11.3 11.3-11.3-11.3zM644.7 338.4l11.3 11.3-11.3 11.3-11.3-11.3zM650.1 341.1l11.3 11.3-11.3 11.3-11.3-11.3zM654.2 341.7l11.3 11.3-11.3 11.3-11.3-11.3zM658.4 343.6l11.3 11.3-11.3 11.3-11.3-11.3zM662.4 345.1l11.3 11.3-11.3 11.3-11.3-11.3zM668.2 348.9l11.3 11.3-11.3 11.3-11.3-11.3zM672.1 349.9l11.3 11.3-11.3 11.3-11.3-11.3zM677.5 351.8l11.3 11.3-11.3 11.3-11.3-11.3zM682.6 352.8l11.3 11.3-11.3 11.3-11.3-11.3zM688.4 355.7l11.3 11.3-11.3 11.3-11.3-11.3zM694 357.9l11.3 11.3-11.3 11.3-11.3-11.3zM699.9 359.8l11.3 11.3-11.3 11.3-11.3-11.3zM705.7 362.6l11.3 11.3-11.3 11.3-11.3-11.3zM710.4 365l11.3 11.3-11.3 11.3-11.3-11.3zM715.7 368.4l11.3 11.3-11.3 11.3-11.3-11.3zM721.4 371.1l11.3 11.3-11.3 11.3-11.3-11.3zM726.5 373.9l11.3 11.3-11.3 11.3-11.3-11.3zM733.6 376.3l11.3 11.3-11.3 11.3-11.3-11.3zM737.7 379.1l11.3 11.3-11.3 11.3-11.3-11.3zM745 382.4l11.3 11.3-11.3 11.3-11.3-11.3zM751.7 384.3l11.3 11.3-11.3 11.3-11.3-11.3zM756.3 387.3l11.3 11.3-11.3 11.3-11.3-11.3zM762.5 387.8l11.3 11.3-11.3 11.3-11.3-11.3zM769.5 391.3l11.3 11.3-11.3 11.3-11.3-11.3zM775.5 395.8l11.3 11.3-11.3 11.3-11.3-11.3zM783.2 399.1l11.3 11.3-11.3 11.3-11.3-11.3zM788.5 401.5l11.3 11.3-11.3 11.3-11.3-11.3zM796.3 403.8l11.3 11.3-11.3 11.3-11.3-11.3zM801.4 406.8l11.3 11.3-11.3 11.3-11.3-11.3zM809.6 412.5l11.3 11.3-11.3 11.3-11.3-11.3zM817.9 414.5l11.3 11.3-11.3 11.3-11.3-11.3zM824.4 417.8l11.3 11.3-11.3 11.3-11.3-11.3zM831.3 422.9l11.3 11.3-11.3 11.3-11.3-11.3zM837.7 426.1l11.3 11.3-11.3 11.3-11.3-11.3zM844.9 429.3l11.3 11.3-11.3 11.3-11.3-11.3zM851 431.8l11.3 11.3-11.3 11.3-11.3-11.3zM858.3 436.6l11.3 11.3-11.3 11.3-11.3-11.3zM866.7 439.7l11.3 11.3-11.3 11.3-11.3-11.3zM874.5 442.1l11.3 11.3-11.3 11.3-11.3-11.3zM881 443.5l11.3 11.3-11.3 11.3-11.3-11.3zM888.7 447.9l11.3 11.3-11.3 11.3-11.3-11.3zM896.9 453.8l11.3 11.3-11.3 11.3-11.3-11.3zM902.5 456.5l11.3 11.3-11.3 11.3-11.3-11.3zM910 460.5l11.3 11.3-11.3 11.3-11.3-11.3zM915 462.2l11.3 11.3-11.3 11.3-11.3-11.3zM920.1 466.4l11.3 11.3-11.3 11.3-11.3-11.3zM925.6 467.3l11.3 11.3-11.3 11.3-11.3-11.3zM929.4 469.3l11.3 11.3-11.3 11.3-11.3-11.3z"/>
<rect x="161.1" y="378.9" width="210.5" height="280.1" fill="#fff" stroke="#000" stroke-width="1.8"/>
<path fill="#ff0000" d="M194.7 417.2l12.35 12.35-12.35 12.35-12.35-12.35z"/>
<path fill="#0000ff" d="M194.7 447.3l12.35 12.35-12.35 12.35-12.35-12.35z"/>
<path fill="#c8009b" d="M194.7 507.6l12.35 12.35-12.35 12.35-12.35-12.35z"/>
<path fill="#555555" d="M194.7 567.8l12.35 12.35-12.35 12.35-12.35-12.35z"/>
<path fill="#c8820a" d="M194.7 628l12.35 12.35-12.35 12.35-12.35-12.35z"/>
<g font-family="'Liberation Sans', sans-serif" font-size="27" fill="#000" stroke="#000" stroke-width="0.25" opacity="0.999"><text x="165.4" y="407.3" font-size="27">#</text><text x="223.8" y="437.4" font-size="27">-0.4 K/hour</text><text x="223.8" y="467.5" font-size="27">-</text><text x="247.8" y="467.5" font-size="27">50 K/hour</text><text x="165.4" y="497.6" font-size="27">#2</text><text x="223.8" y="527.7" font-size="27">-</text><text x="247.8" y="527.7" font-size="27">.5 K/hour</text><text x="165.4" y="557.8" font-size="27">#3</text><text x="223.8" y="587.9" font-size="27">-</text><text x="247.8" y="587.9" font-size="27">3 K/hour</text><text x="165.4" y="618" font-size="27">#4</text><text x="231.4" y="648.1" font-size="27">-85 K/hour</text><text x="62.41" y="691.9" font-size="27">0</text><text x="78" y="674.3" font-size="18.4">-8</text><text x="62.41" y="527.5" font-size="27">0</text><text x="78" y="509.9" font-size="18.4">-7</text><text x="62.41" y="363.1" font-size="27">0</text><text x="78" y="345.5" font-size="18.4">-6</text><text x="62.41" y="198.7" font-size="27">0</text><text x="78" y="181.1" font-size="18.4">-5</text><text x="62.41" y="34.3" font-size="27">0</text><text x="78" y="16.7" font-size="18.4">-4</text><text x="89.24" y="721.9" font-size="27">0.</text><text x="292.88" y="697.4" font-size="16.5">2</text><text x="404.24" y="697.4" font-size="16.5">3</text><text x="483.26" y="697.4" font-size="16.5">4</text><text x="544.54" y="697.4" font-size="16.5">5</text><text x="594.62" y="697.4" font-size="16.5">6</text><text x="636.95" y="697.4" font-size="16.5">7</text><text x="673.63" y="697.4" font-size="16.5">8</text><text x="705.98" y="697.4" font-size="16.5">9</text><text x="925.28" y="697.4" font-size="16.5">2</text><text x="482.3" y="762.2" font-style="italic">T</text><text x="507.8" y="762.2">[</text><text x="523.3" y="762.2">K</text><text x="549.2" y="762.2">]</text><text transform="translate(23.3 521.2) rotate(-90)" font-size="26" textLength="347.3" lengthAdjust="spacing">Phonon mean free path [ m ]</text><path vector-effect="non-scaling-stroke" transform="translate(180.41 407.3) scale(0.01318 -0.01318)" d="M763 0H583V1147Q518 1085 412.5 1023Q307 961 223 930V1104Q374 1175 487 1276Q600 1377 647 1472H763Z"/><path vector-effect="non-scaling-stroke" transform="translate(232.79 467.5) scale(0.01318 -0.01318)" d="M763 0H583V1147Q518 1085 412.5 1023Q307 961 223 930V1104Q374 1175 487 1276Q600 1377 647 1472H763Z"/><path vector-effect="non-scaling-stroke" transform="translate(232.79 527.7) scale(0.01318 -0.01318)" d="M763 0H583V1147Q518 1085 412.5 1023Q307 961 223 930V1104Q374 1175 487 1276Q600 1377 647 1472H763Z"/><path vector-effect="non-scaling-stroke" transform="translate(232.79 587.9) scale(0.01318 -0.01318)" d="M763 0H583V1147Q518 1085 412.5 1023Q307 961 223 930V1104Q374 1175 487 1276Q600 1377 647 1472H763Z"/><path vector-effect="non-scaling-stroke" transform="translate(47.4 691.9) scale(0.01318 -0.01318)" d="M763 0H583V1147Q518 1085 412.5 1023Q307 961 223 930V1104Q374 1175 487 1276Q600 1377 647 1472H763Z"/><path vector-effect="non-scaling-stroke" transform="translate(47.4 527.5) scale(0.01318 -0.01318)" d="M763 0H583V1147Q518 1085 412.5 1023Q307 961 223 930V1104Q374 1175 487 1276Q600 1377 647 1472H763Z"/><path vector-effect="non-scaling-stroke" transform="translate(47.4 363.1) scale(0.01318 -0.01318)" d="M763 0H583V1147Q518 1085 412.5 1023Q307 961 223 930V1104Q374 1175 487 1276Q600 1377 647 1472H763Z"/><path vector-effect="non-scaling-stroke" transform="translate(47.4 198.7) scale(0.01318 -0.01318)" d="M763 0H583V1147Q518 1085 412.5 1023Q307 961 223 930V1104Q374 1175 487 1276Q600 1377 647 1472H763Z"/><path vector-effect="non-scaling-stroke" transform="translate(47.4 34.3) scale(0.01318 -0.01318)" d="M763 0H583V1147Q518 1085 412.5 1023Q307 961 223 930V1104Q374 1175 487 1276Q600 1377 647 1472H763Z"/><path vector-effect="non-scaling-stroke" transform="translate(111.75 721.9) scale(0.01318 -0.01318)" d="M763 0H583V1147Q518 1085 412.5 1023Q307 961 223 930V1104Q374 1175 487 1276Q600 1377 647 1472H763Z"/><path vector-effect="non-scaling-stroke" transform="translate(731.49 721.3) scale(0.01318 -0.01318)" d="M763 0H583V1147Q518 1085 412.5 1023Q307 961 223 930V1104Q374 1175 487 1276Q600 1377 647 1472H763Z"/></g>
</svg>
</body></html>
